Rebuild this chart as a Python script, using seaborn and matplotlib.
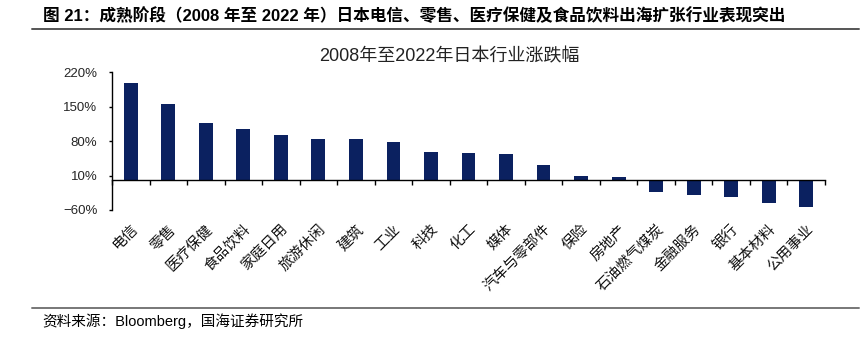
import numpy as np
import pandas as pd
import matplotlib
matplotlib.use("Agg")
import matplotlib.pyplot as plt
from matplotlib.lines import Line2D
from matplotlib.ticker import FixedLocator
import seaborn as sns

# ---- data ----
categories = ["电信", "零售", "医疗保健", "食品饮料", "家庭日用", "旅游休闲", "建筑", "工业",
              "科技", "化工", "媒体", "汽车与零部件", "保险", "房地产", "石油燃气煤炭",
              "金融服务", "银行", "基本材料", "公用事业"]
changes = [198, 156, 116, 104, 93, 85, 84, 78, 57, 55, 54, 32, 9.5, 8, -23, -29, -34, -46, -54]
y_ticks = [-60, 10, 80, 150, 220]
y_tick_labels = ["\u221260%", "10%", "80%", "150%", "220%"]

header = "图 21：成熟阶段（2008 年至 2022 年）日本电信、零售、医疗保健及食品饮料出海扩张行业表现突出"
chart_title = "2008年至2022年日本行业涨跌幅"
source = "资料来源：Bloomberg，国海证券研究所"

sns.set_theme(style="white")
plt.rcParams["font.family"] = ["Liberation Sans", "Noto Sans CJK SC", "DejaVu Sans"]
plt.rcParams["axes.unicode_minus"] = False

W, H = 864, 337
fig = plt.figure(figsize=(W / 100, H / 100), dpi=100)
ax = fig.add_axes([112 / W, 1 - 210 / H, (825 - 112) / W, (210 - 72.3) / H])

df = pd.DataFrame({"cat": categories, "val": changes})
sns.barplot(data=df, x="cat", y="val", color="#0B2160", width=0.37, ax=ax,
            saturation=1, edgecolor="none")

ax.set_xlim(-0.5, len(categories) - 0.5)
ax.set_ylim(-60, 220)
ax.set_xlabel("")
ax.set_ylabel("")

for s in ["top", "right"]:
    ax.spines[s].set_visible(False)
ax.spines["bottom"].set_position(("data", 0))
ax.spines["bottom"].set_color("black")
ax.spines["bottom"].set_linewidth(1.0)
ax.spines["left"].set_color("black")
ax.spines["left"].set_linewidth(1.0)

ax.set_yticks(y_ticks)
ax.set_yticklabels(y_tick_labels, fontsize=9.5, family=["Liberation Sans"])
ax.tick_params(axis="y", direction="out", length=2.5, width=1, pad=8, color="black",
               left=True)

ax.set_xticks(range(len(categories)))
ax.set_xticklabels(categories, rotation=45, ha="right", va="top",
                   rotation_mode="anchor", fontsize=10.5,
                   family=["Noto Sans CJK SC"], color="#111111")
ax.tick_params(axis="x", which="major", length=0, pad=30, bottom=True)
ax.xaxis.set_minor_locator(FixedLocator(np.arange(-0.5, len(categories), 1.0)))
ax.tick_params(axis="x", which="minor", direction="out", length=3.5, width=1,
               color="black", bottom=True)
ax.grid(False)

# header, rules, titles
fig.text(43 / W, 1 - 15.5 / H, header, fontsize=12, fontweight="bold",
         ha="left", va="center", color="black",
         family=["Liberation Sans", "Noto Sans CJK SC"])
fig.add_artist(Line2D([32 / W, 859 / W], [1 - 28.5 / H] * 2, color="#555555", lw=1.4))
fig.text(449 / W, 1 - 57 / H, chart_title, fontsize=13, ha="center", va="center",
         color="#222222", family=["Liberation Sans", "Noto Sans CJK SC"])
fig.add_artist(Line2D([32 / W, 859 / W], [1 - 308.3 / H] * 2, color="#777777", lw=1.4))
fig.text(42 / W, 1 - 321 / H, source, fontsize=10.5, ha="left", va="center",
         color="black", family=["Liberation Sans", "Noto Sans CJK SC"])

fig.savefig("out.png", dpi=100)
